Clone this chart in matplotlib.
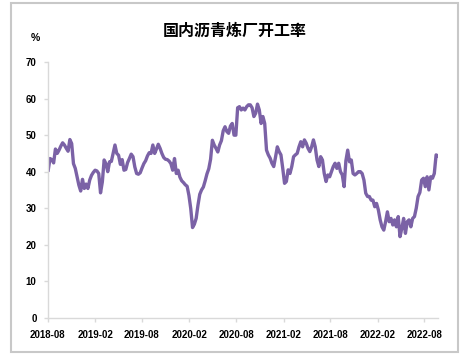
import numpy as np
import pandas as pd
import matplotlib
matplotlib.use('Agg')
import matplotlib.pyplot as plt
import matplotlib.dates as mdates
from matplotlib.patches import Rectangle

plt.rcParams['font.family'] = ['Liberation Sans', 'Noto Sans CJK SC', 'DejaVu Sans']

# 国内沥青炼厂开工率 (%), weekly, from 2018-08-03
start = '2018-08-03'
rate = [
    40.4, 43.6, 43.3, 42.4, 46.2, 45.0, 45.9, 47.0, 47.9, 47.3,
    46.4, 45.6, 48.8, 47.7, 42.2, 40.9, 38.6, 36.3, 34.7, 37.9,
    35.4, 36.6, 35.4, 37.7, 39.0, 39.8, 40.4, 40.2, 39.5, 34.2,
    37.2, 43.2, 42.2, 40.0, 42.7, 42.8, 45.0, 47.3, 45.0, 44.5,
    42.0, 43.3, 40.4, 40.6, 42.5, 43.6, 44.8, 44.1, 41.3, 39.5,
    39.3, 39.7, 41.0, 42.2, 43.0, 44.3, 45.2, 45.0, 47.3, 45.0,
    46.2, 47.5, 46.4, 45.0, 43.9, 43.4, 43.3, 42.9, 42.2, 40.4,
    43.6, 39.5, 40.4, 38.5, 37.5, 37.0, 36.4, 36.0, 33.5, 29.9,
    24.7, 25.6, 27.2, 30.8, 33.8, 35.0, 35.8, 37.5, 39.4, 40.8,
    43.4, 48.6, 47.3, 46.4, 45.4, 47.3, 48.5, 51.2, 52.3, 51.0,
    50.5, 52.5, 53.2, 50.0, 50.0, 57.5, 57.8, 56.9, 57.4, 56.9,
    57.8, 58.3, 58.3, 57.5, 55.1, 56.0, 58.5, 56.9, 53.2, 55.1,
    53.2, 45.9, 44.6, 43.7, 42.3, 41.4, 44.0, 46.8, 45.5, 44.6,
    40.9, 36.8, 37.3, 40.5, 39.5, 41.4, 44.1, 44.6, 45.0, 46.8,
    48.2, 46.8, 48.7, 47.8, 46.4, 45.5, 46.8, 48.7, 46.8, 43.2,
    41.4, 44.1, 43.2, 39.5, 37.3, 39.1, 38.6, 40.0, 41.4, 42.3,
    40.9, 42.3, 40.0, 39.1, 35.9, 43.0, 45.9, 42.7, 43.2, 39.5,
    39.1, 39.5, 40.0, 40.0, 39.5, 37.7, 34.1, 33.2, 33.2, 32.2,
    32.2, 30.4, 31.3, 29.5, 26.8, 24.9, 24.0, 26.3, 29.0, 26.3,
    27.2, 25.4, 26.8, 24.9, 27.7, 22.2, 24.5, 27.2, 23.1, 26.3,
    26.8, 24.9, 27.2, 27.7, 30.0, 33.2, 34.3, 37.7, 38.2, 35.9,
    38.6, 35.0, 38.6, 38.2, 39.5, 44.6, 44.3,
]
dates = pd.date_range(start, periods=len(rate), freq='7D')

tick_months = ['2018-08', '2019-02', '2019-08', '2020-02', '2020-08',
               '2021-02', '2021-08', '2022-02', '2022-08']
y_ticks = [0, 10, 20, 30, 40, 50, 60, 70]

fig = plt.figure(figsize=(4.69, 3.55), dpi=100)
ax = fig.add_axes([0.1017, 0.105, 0.832, 0.72])

ax.plot(dates, rate, color='#7b62a6', lw=2.4, solid_joinstyle='round')

ax.set_ylim(0, 70)
ax.set_yticks(y_ticks)
ax.set_xlim(pd.Timestamp('2018-08-01'), dates[-1])
ax.set_xticks([pd.Timestamp(m + '-01') for m in tick_months])
ax.xaxis.set_major_formatter(mdates.DateFormatter('%Y-%m'))

for s in ['top', 'right']:
    ax.spines[s].set_visible(False)
for s in ['left', 'bottom']:
    ax.spines[s].set_color('#d9d9d9')
    ax.spines[s].set_linewidth(1.0)
ax.tick_params(axis='both', colors='#d9d9d9', length=3, width=1.0,
               labelcolor='black', labelsize=7)
ax.tick_params(axis='x', pad=6)
ax.tick_params(axis='y', pad=5)
for lab in ax.get_xticklabels() + ax.get_yticklabels():
    lab.set_fontweight('bold')

fig.text(0.5, 0.915, '国内沥青炼厂开工率', ha='center', va='center',
         fontsize=11.5, fontweight='bold', family=['Noto Sans CJK SC', 'DejaVu Sans'])
fig.text(0.075, 0.893, '%', ha='center', va='center', fontsize=7.5, fontweight='bold')

# light grey frame around the chart area
fig.patches.append(Rectangle((11 / 469, 3 / 355), 447 / 469, 349 / 355,
                             transform=fig.transFigure, fill=False,
                             edgecolor='#c8c8c8', lw=1.5))

fig.savefig('out.png', dpi=100)
